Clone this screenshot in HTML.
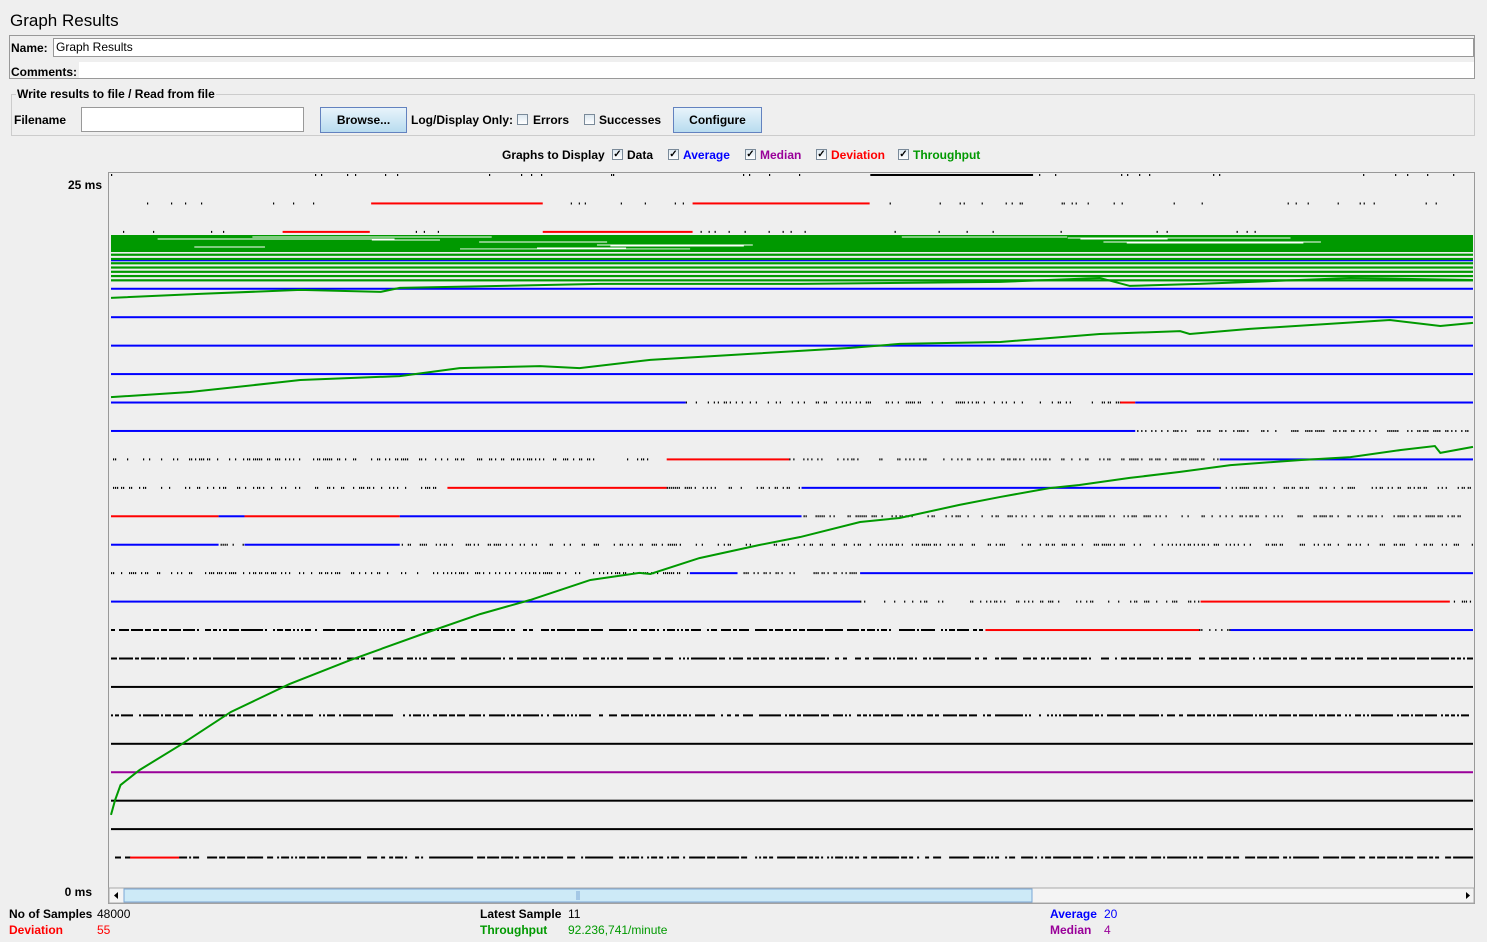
<!DOCTYPE html>
<html><head><meta charset="utf-8">
<style>
body{margin:0;width:1487px;height:942px;background:#efefef;font-family:"Liberation Sans",sans-serif;font-size:12px;color:#000;position:relative;overflow:hidden}
.a{position:absolute;white-space:nowrap}
.b{font-weight:bold}
.btn{position:absolute;border:1px solid #6382bf;background:linear-gradient(#e8f4fb,#b8dcef);font-weight:bold;text-align:center;box-sizing:border-box}
.cb{position:absolute;width:11px;height:11px;border:1px solid #7a8a99;background:linear-gradient(#dde8f0,#fff);box-sizing:border-box;font-size:10px;line-height:9px;text-align:center;font-weight:bold}
</style></head><body>
<div class="a" style="left:10px;top:11px;font-size:17px">Graph Results</div>
<div class="a" style="left:9px;top:35px;width:1466px;height:44px;border:1px solid #999;box-sizing:border-box"></div>
<div class="a b" style="left:11px;top:41px">Name:</div>
<div class="a" style="left:53px;top:38px;width:1421px;height:19px;background:#fff;border:1px solid #999;box-sizing:border-box;padding-left:2px;line-height:17px">Graph Results</div>
<div class="a b" style="left:11px;top:65px">Comments:</div>
<div class="a" style="left:79px;top:62px;width:1395px;height:16px;background:#fff"></div>
<div class="a" style="left:11px;top:94px;width:1464px;height:42px;border:1px solid #ccc;box-sizing:border-box"></div>
<div class="a b" style="left:16px;top:87px;background:#efefef;padding:0 1px">Write results to file / Read from file</div>
<div class="a b" style="left:14px;top:113px">Filename</div>
<div class="a" style="left:81px;top:107px;width:223px;height:25px;background:#fff;border:1px solid #999;box-sizing:border-box"></div>
<div class="btn" style="left:320px;top:107px;width:87px;height:26px;line-height:24px">Browse...</div>
<div class="a b" style="left:411px;top:113px">Log/Display Only:</div>
<div class="cb" style="left:517px;top:114px"></div>
<div class="a b" style="left:533px;top:113px">Errors</div>
<div class="cb" style="left:584px;top:114px"></div>
<div class="a b" style="left:599px;top:113px">Successes</div>
<div class="btn" style="left:673px;top:107px;width:89px;height:26px;line-height:24px">Configure</div>

<div class="a b" style="left:502px;top:148px">Graphs to Display</div>
<div class="cb" style="left:612px;top:149px">✓</div>
<div class="a b" style="left:627px;top:148px">Data</div>
<div class="cb" style="left:668px;top:149px">✓</div>
<div class="a b" style="left:683px;top:148px;color:#0000ff">Average</div>
<div class="cb" style="left:745px;top:149px">✓</div>
<div class="a b" style="left:760px;top:148px;color:#990099">Median</div>
<div class="cb" style="left:816px;top:149px">✓</div>
<div class="a b" style="left:831px;top:148px;color:#ff0000">Deviation</div>
<div class="cb" style="left:898px;top:149px">✓</div>
<div class="a b" style="left:913px;top:148px;color:#009900">Throughput</div>

<div class="a b" style="left:60px;top:178px;width:42px;text-align:right">25 ms</div>
<div class="a b" style="left:60px;top:885px;width:32px;text-align:right">0 ms</div>

<svg class="a" style="left:0;top:0" width="1487" height="942" id="chart">
<rect x="108.5" y="172.5" width="1366" height="731" fill="#efefef" stroke="#999"/>
<g id="marks"></g>
<rect x="109" y="888" width="1365" height="15" fill="#f4f4f4" stroke="#aaa"/>
<rect x="124" y="889" width="908" height="13" fill="#cdeaf7" stroke="#7aa7d6"/>
<line x1="577" y1="891" x2="577" y2="900" stroke="#7aa7d6"/><line x1="579" y1="891" x2="579" y2="900" stroke="#7aa7d6"/>
<path d="M118 892 L114 895.5 L118 899Z" fill="#000"/>
<path d="M1466 892 L1470 895.5 L1466 899Z" fill="#000"/>
</svg>

<div class="a b" style="left:9px;top:907px">No of Samples</div>
<div class="a" style="left:97px;top:907px">48000</div>
<div class="a b" style="left:9px;top:923px;color:#f00">Deviation</div>
<div class="a" style="left:97px;top:923px;color:#f00">55</div>
<div class="a b" style="left:480px;top:907px">Latest Sample</div>
<div class="a" style="left:568px;top:907px">11</div>
<div class="a b" style="left:480px;top:923px;color:#009900">Throughput</div>
<div class="a" style="left:568px;top:923px;color:#009900">92.236,741/minute</div>
<div class="a b" style="left:1050px;top:907px;color:#00f">Average</div>
<div class="a" style="left:1104px;top:907px;color:#00f">20</div>
<div class="a b" style="left:1050px;top:923px;color:#909">Median</div>
<div class="a" style="left:1104px;top:923px;color:#909">4</div>

<script>
const rowValues=[25,24,23,22,21,20,19,18,17,16,15,14,13,12,11,10,9,8,7,6,5,4,3,2,1];
const rowSegments=[
 [[0,0.56,'s'],[0.5575,0.677,'K'],[0.677,1,'s']],
 [[0,0.19,'s'],[0.191,0.317,'R'],[0.317,0.427,'s'],[0.427,0.557,'R'],[0.557,1,'s']],
 [[0,0.126,'s'],[0.126,0.19,'R'],[0.19,0.317,'s'],[0.317,0.427,'R'],[0.427,1,'s']],
 [[0,1,'B']],[[0,1,'B']],[[0,1,'B']],[[0,1,'B']],[[0,1,'B']],
 [[0,0.422,'B'],[0.422,0.741,'d'],[0.741,0.752,'R'],[0.752,1,'B']],
 [[0,0.752,'B'],[0.752,1,'d']],
 [[0,0.408,'d'],[0.408,0.498,'R'],[0.498,0.814,'d'],[0.814,1,'B']],
 [[0,0.247,'d'],[0.247,0.408,'R'],[0.408,0.507,'d'],[0.507,0.814,'B'],[0.814,1,'d']],
 [[0,0.079,'R'],[0.079,0.098,'B'],[0.098,0.212,'R'],[0.212,0.507,'B'],[0.507,1,'d']],
 [[0,0.079,'B'],[0.079,0.098,'d'],[0.098,0.212,'B'],[0.212,1,'d']],
 [[0,0.425,'d'],[0.425,0.46,'B'],[0.46,0.55,'d'],[0.55,1,'B']],
 [[0,0.55,'B'],[0.55,0.8,'d'],[0.8,0.983,'R'],[0.983,1,'d']],
 [[0,0.642,'D'],[0.642,0.799,'R'],[0.799,0.822,'d'],[0.822,1,'B']],
 [[0,1,'D']],
 [[0,1,'K']],
 [[0,1,'D']],
 [[0,1,'K']],
 [[0,1,'P']],
 [[0,1,'K']],
 [[0,1,'K']],
 [[0,0.014,'D'],[0.014,0.05,'R'],[0.05,1,'D']]
];
const tp1X=[0,0.003,0.007,0.021,0.051,0.088,0.131,0.176,0.227,0.271,0.308,0.352,0.388,0.396,0.432,0.476,0.506,0.55,0.579,0.623,0.653,0.689,0.711,0.748,0.785,0.822,0.874,0.91,0.947,0.972,0.976,1];
const tp1V=[2.5,3.02,3.55,4.08,4.96,6.12,7.1,7.95,8.83,9.56,10.06,10.76,11.01,10.97,11.53,11.99,12.27,12.8,12.94,13.4,13.68,13.99,14.1,14.35,14.56,14.8,14.98,15.08,15.33,15.47,15.23,15.44];
const tp2X=[0,0.058,0.139,0.212,0.256,0.315,0.344,0.396,0.469,0.543,0.579,0.653,0.726,0.785,0.792,0.836,0.939,0.976,1];
const tp2V=[17.19,17.37,17.79,17.93,18.21,18.28,18.21,18.5,18.71,18.92,19.06,19.13,19.41,19.51,19.41,19.59,19.9,19.69,19.8];
const tp3X=[0,0.065,0.139,0.198,0.212,0.359,0.506,0.653,0.726,0.748,0.799,0.91,1];
const tp3V=[20.68,20.82,20.96,20.89,21.03,21.17,21.17,21.24,21.38,21.1,21.17,21.38,21.31];
const bandLevels=[22.35,22.2,22.05,21.9,21.75,21.6,21.45,21.3];

const X0=111,X1=1473,Y0=886,PX=28.44;
const xs=f=>X0+f*(X1-X0), ys=v=>Y0-v*PX;
const NS='http://www.w3.org/2000/svg', g=document.getElementById('marks');
const col={B:'#0000ff',R:'#ff0000',K:'#000',P:'#990099'};
function mk(t,a){const e=document.createElementNS(NS,t);for(const k in a)e.setAttribute(k,a[k]);g.appendChild(e);return e;}
let seed=7;function rnd(){seed=(seed*16807)%2147483647;return seed/2147483647;}
rowValues.forEach((v,i)=>{
 const y=ys(v);
 rowSegments[i].forEach(s=>{
  const a=xs(s[0]),b=xs(s[1]);
  if(col[s[2]]){
   const r=mk('rect',{x:a,y:y-1,width:b-a,height:2,fill:col[s[2]]});
   
   
  }else{
   const p=s[2]==='s'?0.05:s[2]==='d'?0.4:0.7;
   let d='';
   for(let x=a;x<b;x+=2){if(rnd()<p)d+='M'+x+' '+y+'h'+(s[2]==='D'?2:1.2);}
   const pa=mk('path',{d:d,stroke:'#000','stroke-width':2,fill:'none'});
   
   
  }
 });
});
const band=mk('rect',{x:X0,y:235,width:X1-X0,height:17,fill:'#009900'});


// white streaks inside band
let sd='';
for(let k=0;k<14;k++){const x=X0+rnd()*(X1-X0-200);const y=237+Math.floor(rnd()*13);sd+='M'+x+' '+y+'h'+(40+rnd()*200);}
const st=mk('path',{d:sd,stroke:'#ffffff','stroke-width':1,fill:'none'});


bandLevels.forEach(v=>{
 const l=mk('rect',{x:X0,y:ys(v)-1,width:X1-X0,height:2.2,fill:'#009900'});
 
 
});
[[tp1X,tp1V,'throughput-curve-main'],[tp2X,tp2V,'throughput-curve-2'],[tp3X,tp3V,'throughput-curve-3']].forEach(c=>{
 const pts=c[0].map((x,j)=>xs(x)+','+ys(c[1][j])).join(' ');
 const pl=mk('polyline',{points:pts,fill:'none',stroke:'#009900','stroke-width':2});
 
 
});
</script>
</body></html>
